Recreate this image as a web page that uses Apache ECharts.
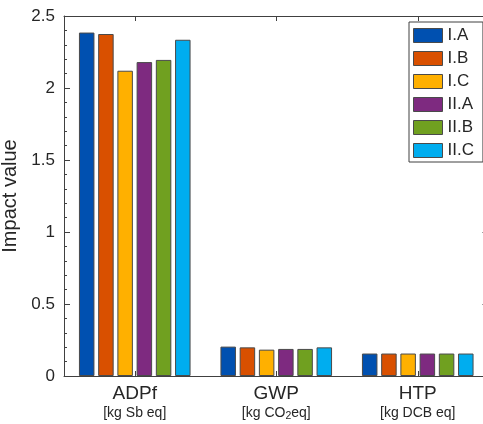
<!DOCTYPE html>
<html>
<head>
<meta charset="utf-8">
<script src="https://cdn.jsdelivr.net/npm/echarts@6/dist/echarts.min.js"></script>
<style>
html,body{margin:0;padding:0;background:#fff;}
#chart{width:483px;height:424px;}
</style>
</head>
<body>
<div id="chart"></div>
<script>
const categories = ['ADPf', 'GWP', 'HTP'];
const unitBefore = ['[kg Sb eq]', '[kg CO', '[kg DCB eq]'];
const unitSub = ['', '2', ''];
const unitAfter = ['', 'eq]', ''];
const seriesNames = ['I.A', 'I.B', 'I.C', 'II.A', 'II.B', 'II.C'];
const valuesIA  = [2.385, 0.204, 0.156];
const valuesIB  = [2.375, 0.199, 0.156];
const valuesIC  = [2.12, 0.183, 0.156];
const valuesIIA = [2.18, 0.188, 0.156];
const valuesIIB = [2.195, 0.188, 0.156];
const valuesIIC = [2.335, 0.199, 0.156];
const yTicks = { min: 0, max: 2.5, interval: 0.5 };

const allValues = [valuesIA, valuesIB, valuesIC, valuesIIA, valuesIIB, valuesIIC];
const colors = ['#0050b0', '#d95000', '#ffb000', '#7e2a80', '#70a020', '#00adef'];
const font = 'Liberation Sans, Arial, Helvetica, sans-serif';
const txt = '#262626';
const axisCol = '#404040';

const chart = echarts.init(document.getElementById('chart'), null, { renderer: 'canvas' });

const series = seriesNames.map((name, i) => ({
  name: name,
  type: 'bar',
  xAxisIndex: 0,
  yAxisIndex: 0,
  data: allValues[i],
  barWidth: 15.5,
  barGap: '24%',
  itemStyle: { color: colors[i], borderColor: '#4a4a4a', borderWidth: 1 },
  emphasis: { disabled: true },
  animation: false
}));

const yCommon = {
  type: 'value',
  min: yTicks.min, max: yTicks.max, interval: yTicks.interval,
  axisLine: { show: true, lineStyle: { color: axisCol, width: 1 } },
  axisTick: { show: true, inside: true, length: 6, lineStyle: { color: axisCol } },
  minorTick: { show: true, splitNumber: 5, length: 3, lineStyle: { color: axisCol } },
  splitLine: { show: false },
  minorSplitLine: { show: false }
};

function unitText(idx) {
  let s = '{b|' + unitBefore[idx] + '}';
  if (unitSub[idx]) s += '{s|' + unitSub[idx] + '}';
  if (unitAfter[idx]) s += '{b|' + unitAfter[idx] + '}';
  return s;
}

chart.setOption({
  animation: false,
  backgroundColor: '#ffffff',
  textStyle: { fontFamily: font, color: txt },
  grid: { left: 64, right: -5.5, top: 16, bottom: 48, containLabel: false, outerBoundsMode: 'none' },
  legend: {
    orient: 'vertical',
    left: 409, top: 22,
    padding: [5, 9, 3, 4],
    icon: 'rect',
    itemWidth: 29, itemHeight: 14, itemGap: 6, itemTextGap: 2,
    backgroundColor: '#ffffff',
    borderColor: '#404040', borderWidth: 1,
    textStyle: { fontFamily: font, fontSize: 17, color: txt, lineHeight: 14 },
    itemStyle: { borderColor: '#4a4a4a', borderWidth: 1 },
    data: seriesNames
  },
  xAxis: [
    {
      type: 'category', position: 'bottom', data: categories,
      axisLine: { show: true, onZero: false, lineStyle: { color: axisCol } },
      axisTick: { show: true, inside: true, alignWithLabel: true, length: 5, lineStyle: { color: axisCol } },
      axisLabel: {
        interval: 0,
        margin: 8,
        fontFamily: font,
        color: txt,
        formatter: function (value, idx) {
          return '{a|' + value + '}\n' + unitText(idx);
        },
        rich: {
          a: { fontFamily: font, fontSize: 19, lineHeight: 20, color: txt },
          b: { fontFamily: font, fontSize: 14, lineHeight: 18, color: txt },
          s: { fontFamily: font, fontSize: 10.5, lineHeight: 10, verticalAlign: 'bottom', color: txt }
        }
      }
    },
    {
      type: 'category', position: 'top', data: categories,
      axisLine: { show: true, onZero: false, lineStyle: { color: axisCol } },
      axisTick: { show: true, inside: true, alignWithLabel: true, length: 5, lineStyle: { color: axisCol } },
      axisLabel: { show: false }
    }
  ],
  yAxis: [
    Object.assign({}, yCommon, {
      position: 'left',
      name: 'Impact value',
      nameLocation: 'middle',
      nameGap: 40,
      nameTextStyle: { fontFamily: font, fontSize: 20, color: txt },
      axisLabel: { fontFamily: font, fontSize: 17, color: txt, margin: 9 }
    }),
    Object.assign({}, yCommon, {
      position: 'right',
      axisLabel: { show: false }
    })
  ],
  series: series
});
</script>
</body>
</html>
